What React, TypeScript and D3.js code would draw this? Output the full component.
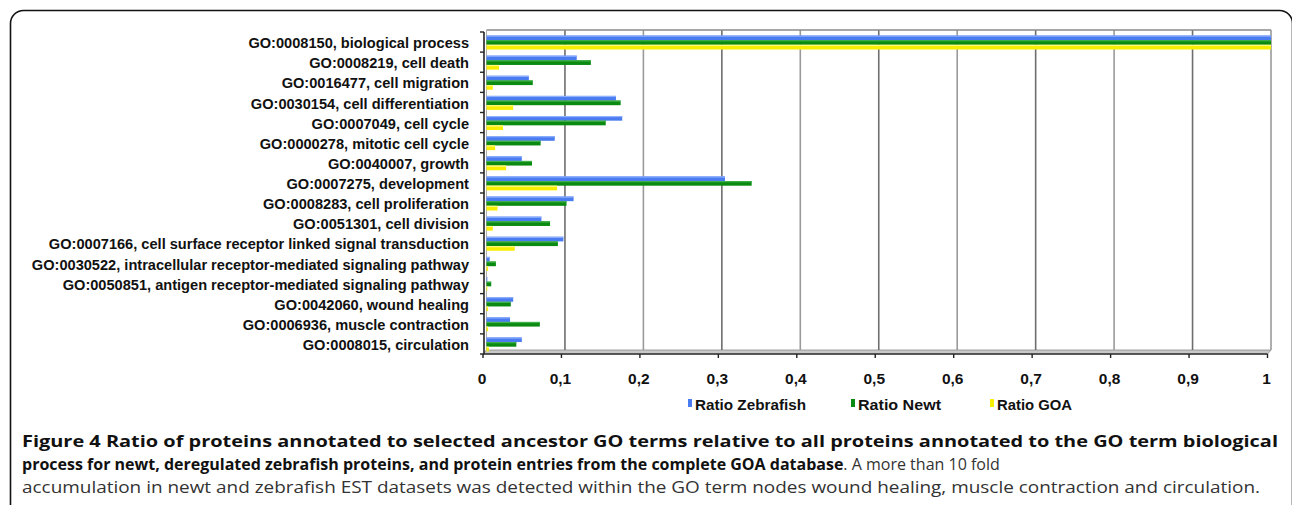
import { useEffect, useRef } from 'react';
import * as d3 from 'd3';

const categories = [
  'GO:0008150, biological process',
  'GO:0008219, cell death',
  'GO:0016477, cell migration',
  'GO:0030154, cell differentiation',
  'GO:0007049, cell cycle',
  'GO:0000278, mitotic cell cycle',
  'GO:0040007, growth',
  'GO:0007275, development',
  'GO:0008283, cell proliferation',
  'GO:0051301, cell division',
  'GO:0007166, cell surface receptor linked signal transduction',
  'GO:0030522, intracellular receptor-mediated signaling pathway',
  'GO:0050851, antigen receptor-mediated signaling pathway',
  'GO:0042060, wound healing',
  'GO:0006936, muscle contraction',
  'GO:0008015, circulation',
];

const zebrafish = [1, 0.115, 0.054, 0.165, 0.173, 0.087, 0.045, 0.304, 0.111, 0.07, 0.098, 0.004, 0.001, 0.034, 0.03, 0.045];
const newt = [1, 0.133, 0.059, 0.171, 0.152, 0.069, 0.058, 0.338, 0.102, 0.081, 0.091, 0.012, 0.006, 0.031, 0.068, 0.038];
const goa = [1, 0.016, 0.008, 0.034, 0.021, 0.011, 0.025, 0.09, 0.014, 0.008, 0.036, 0.002, 0.001, 0.002, 0.002, 0.003];

const seriesNames = ['Ratio Zebrafish', 'Ratio Newt', 'Ratio GOA'];
const seriesColors = ['#4a7bf0', '#0b8a12', '#f7ee00'];
const seriesLight = ['#8fb0ff', '#3fb04a', '#fffa80'];

const xTicks = [0, 0.1, 0.2, 0.3, 0.4, 0.5, 0.6, 0.7, 0.8, 0.9, 1];

const caption1 =
  'Figure 4 Ratio of proteins annotated to selected ancestor GO terms relative to all proteins annotated to the GO term biological';
const caption2b = 'process for newt, deregulated zebrafish proteins, and protein entries from the complete GOA database';
const caption2r = '. A more than 10 fold';
const caption3 =
  'accumulation in newt and zebrafish EST datasets was detected within the GO term nodes wound healing, muscle contraction and circulation.';

const App = () => {
  const svgRef = useRef<SVGSVGElement>(null);

  useEffect(() => {
    const width = 1292;
    const height = 505;
    const svg = d3.select(svgRef.current).attr('width', width).attr('height', height);
    svg.selectAll('*').remove();

    // frame
    svg
      .append('rect')
      .attr('x', 10.5)
      .attr('y', 10.5)
      .attr('width', 1282)
      .attr('height', 540)
      .attr('rx', 13)
      .attr('fill', 'none')
      .attr('stroke', '#111')
      .attr('stroke-width', 1.6);

    const top = 30;
    const floor = 350;
    const front = 354;

    const xBack = d3.scaleLinear().domain([0, 1]).range([486.5, 1271]);
    const xFront = d3.scaleLinear().domain([0, 1]).range([483, 1267.5]);
    const y = d3.scaleBand<string>().domain(categories).range([32, 354]);
    const ySub = d3.scaleBand<number>().domain([0, 1, 2]).range([3.5, 17.5]);

    const g = svg.append('g');

    // floor
    g.append('path')
      .attr('d', `M${xBack(0)},${floor} L${xBack(1)},${floor} L${xFront(1)},${front} L${xFront(0)},${front} Z`)
      .attr('fill', '#c8c8c8')
      .attr('stroke', '#8a8a8a')
      .attr('stroke-width', 0.8);

    // back wall grid
    g.selectAll('line.grid')
      .data(xTicks.slice(1))
      .enter()
      .append('line')
      .attr('x1', (d) => xBack(d))
      .attr('x2', (d) => xBack(d))
      .attr('y1', top)
      .attr('y2', floor)
      .attr('stroke', (d, i) => (i % 2 === 0 ? '#6e6e6e' : '#9a9a9a'))
      .attr('stroke-width', 1.6);

    g.append('line')
      .attr('x1', xBack(0))
      .attr('x2', xBack(1))
      .attr('y1', top)
      .attr('y2', top)
      .attr('stroke', '#8a8a8a')
      .attr('stroke-width', 1.4);

    g.append('line')
      .attr('x1', xBack(0))
      .attr('x2', xBack(0))
      .attr('y1', top)
      .attr('y2', floor)
      .attr('stroke', '#b0b0b0')
      .attr('stroke-width', 1);

    // bars
    const series = [zebrafish, newt, goa];
    series.forEach((vals, si) => {
      const bars = g
        .selectAll(`g.s${si}`)
        .data(categories)
        .enter()
        .append('g');
      bars
        .append('rect')
        .attr('x', xBack(0))
        .attr('y', (d) => (y(d) as number) + (ySub(si) as number))
        .attr('width', (d, i) => Math.max(0.8, xBack(vals[i]) - xBack(0)))
        .attr('height', ySub.bandwidth())
        .attr('fill', seriesColors[si]);
      bars
        .append('rect')
        .attr('x', xBack(0))
        .attr('y', (d) => (y(d) as number) + (ySub(si) as number))
        .attr('width', (d, i) => Math.max(0.8, xBack(vals[i]) - xBack(0)))
        .attr('height', 1.2)
        .attr('fill', seriesLight[si]);
    });

    // left axis
    g.append('line')
      .attr('x1', 484)
      .attr('x2', 484)
      .attr('y1', 32)
      .attr('y2', front)
      .attr('stroke', '#222')
      .attr('stroke-width', 1.6);

    const yTickPos = categories.map((c) => y(c) as number).concat([354]);
    g.selectAll('line.ytick')
      .data(yTickPos)
      .enter()
      .append('line')
      .attr('x1', 480)
      .attr('x2', 484)
      .attr('y1', (d) => d)
      .attr('y2', (d) => d)
      .attr('stroke', '#222')
      .attr('stroke-width', 1.4);

    g.selectAll('text.ylab')
      .data(categories)
      .enter()
      .append('text')
      .attr('x', 469)
      .attr('y', (d) => (y(d) as number) + y.bandwidth() / 2 + 1)
      .attr('dy', '0.35em')
      .attr('text-anchor', 'end')
      .style('font-family', '"Liberation Sans", Arial, sans-serif')
      .style('font-weight', 'bold')
      .style('font-size', '14.6px')
      .style('fill', '#111')
      .text((d) => d);

    // bottom axis
    g.append('line')
      .attr('x1', xFront(0))
      .attr('x2', xFront(1))
      .attr('y1', front)
      .attr('y2', front)
      .attr('stroke', '#333')
      .attr('stroke-width', 1.4);

    g.selectAll('line.xtick')
      .data(xTicks)
      .enter()
      .append('line')
      .attr('x1', (d) => xFront(d))
      .attr('x2', (d) => xFront(d))
      .attr('y1', front)
      .attr('y2', front + 4)
      .attr('stroke', '#222')
      .attr('stroke-width', 1.4);

    g.selectAll('text.xlab')
      .data(xTicks)
      .enter()
      .append('text')
      .attr('x', (d) => xFront(d) - 1)
      .attr('y', 384)
      .attr('text-anchor', 'middle')
      .style('font-family', '"Liberation Sans", Arial, sans-serif')
      .style('font-weight', 'bold')
      .style('font-size', '15.5px')
      .style('fill', '#111')
      .text((d) => String(d).replace('.', ','));

    // legend
    const legendX = [688, 851, 990];
    const legendW = [111, 83, 75];
    const leg = g
      .selectAll('g.leg')
      .data(seriesNames)
      .enter()
      .append('g')
      .attr('transform', (d, i) => `translate(${legendX[i]},405)`);
    leg
      .append('rect')
      .attr('x', 0)
      .attr('y', -6)
      .attr('width', 4)
      .attr('height', 8)
      .attr('fill', (d, i) => seriesColors[i]);
    leg
      .append('text')
      .attr('x', 7)
      .attr('y', 5)
      .attr('textLength', (d, i) => legendW[i])
      .attr('lengthAdjust', 'spacingAndGlyphs')
      .style('font-family', '"Liberation Sans", Arial, sans-serif')
      .style('font-weight', 'bold')
      .style('font-size', '15px')
      .style('fill', '#111')
      .text((d) => d);

    // caption
    const capFont = '"Open Sans", "Noto Sans", sans-serif';
    svg
      .append('text')
      .attr('x', 22)
      .attr('y', 447)
      .attr('textLength', 1256)
      .attr('lengthAdjust', 'spacingAndGlyphs')
      .style('font-family', capFont)
      .style('font-weight', 'bold')
      .style('font-size', '16.5px')
      .style('fill', '#111')
      .text(caption1);

    const l2 = svg
      .append('text')
      .attr('x', 22)
      .attr('y', 470)
      .style('font-family', capFont)
      .style('font-size', '16px')
      .style('fill', '#111');
    l2.append('tspan').style('font-weight', 'bold').text(caption2b);
    l2.append('tspan').style('font-weight', 'normal').style('fill', '#333').text(caption2r);

    svg
      .append('text')
      .attr('x', 22)
      .attr('y', 493)
      .attr('textLength', 1238)
      .attr('lengthAdjust', 'spacingAndGlyphs')
      .style('font-family', capFont)
      .style('font-size', '16.5px')
      .style('fill', '#333')
      .text(caption3);
  }, []);

  return (
    <div style={{ position: 'absolute', left: 0, top: 0 }}>
      <svg ref={svgRef} style={{ display: 'block' }}></svg>
    </div>
  );
};

export default App;
